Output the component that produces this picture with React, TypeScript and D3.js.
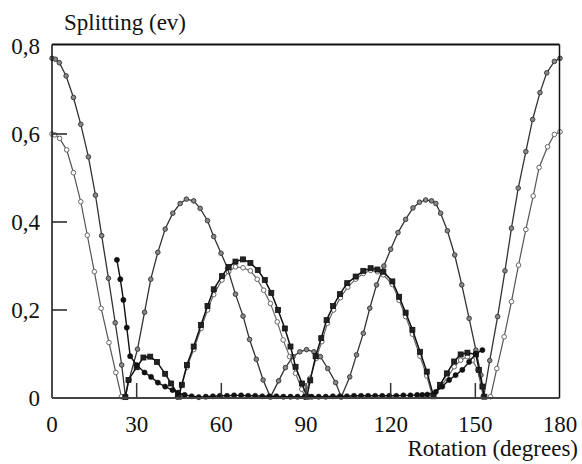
import React, { useEffect, useRef } from "react";
import * as d3 from "d3";

type P = [number, number];

const xTicks = [0, 30, 60, 90, 120, 150, 180];
const yTicks = [0, 0.2, 0.4, 0.6, 0.8];
const yTickLabels = ["0", "0,2", "0,4", "0,6", "0,8"];
const yTitle = "Splitting (ev)";
const xTitle = "Rotation (degrees)";

// 0.77 curve (continuous)
const s1: P[] = [
  [0, 0.772], [1.2, 0.77], [2.6, 0.762], [5, 0.732], [7.6, 0.683], [10.2, 0.622], [12.9, 0.548],
  [15.4, 0.461], [17.6, 0.369], [20, 0.272], [22.4, 0.171], [24.7, 0.075], [26, 0.004],
  [27.3, 0.041], [30.3, 0.111], [32.8, 0.195], [35, 0.27], [37.5, 0.331], [40.1, 0.384], [42.8, 0.42],
  [45.4, 0.442], [47.6, 0.452], [50.2, 0.448], [52.5, 0.431], [55.1, 0.403], [57.3, 0.367], [59.9, 0.329],
  [62.2, 0.295], [65, 0.236], [67.7, 0.186], [70, 0.133], [72.4, 0.088], [74.8, 0.041], [77.4, 0.002],
  [80.3, 0.039], [82.7, 0.069], [85.4, 0.094], [87.8, 0.105], [90.2, 0.11], [92.8, 0.105], [95.1, 0.094],
  [97.7, 0.067], [100.5, 0.035], [102.5, 0.002],
  [105.5, 0.048], [107.9, 0.098], [110.3, 0.147], [112.6, 0.204], [115, 0.257], [117.6, 0.3], [120, 0.338],
  [122.6, 0.376], [125.3, 0.406], [127.9, 0.432], [130.2, 0.445], [132.4, 0.45], [134.5, 0.448], [136, 0.442],
  [137.7, 0.42], [140.1, 0.38], [142.7, 0.325], [145.2, 0.257], [147.8, 0.181], [150.2, 0.109], [152, 0.052],
  [153, 0.004],
  [155.1, 0.085], [157.9, 0.185], [160.5, 0.289], [162.8, 0.386], [165.2, 0.477], [167.9, 0.56], [170.3, 0.633],
  [172.9, 0.694], [175.3, 0.739], [178, 0.765], [180, 0.772],
];

// 0.6 curve, two branches
const s2Left: P[] = [
  [0, 0.6], [1, 0.598], [2.7, 0.59], [5.2, 0.564], [7.6, 0.512], [10.2, 0.446], [12.5, 0.37], [15, 0.287],
  [17.4, 0.204], [20.2, 0.126], [22.6, 0.058], [24.6, 0.003],
];
const s2Right: P[] = [
  [155.4, 0.003], [157.6, 0.067], [160.2, 0.139], [162.8, 0.219], [165.3, 0.302], [167.9, 0.383], [170.5, 0.459],
  [172.6, 0.524], [175.6, 0.571], [178, 0.599], [180, 0.605],
];

// dotted near-zero curve
const s3: P[] = [
  [23, 0.314], [24.2, 0.27], [25.3, 0.223], [26.5, 0.16], [27.7, 0.095], [30, 0.075], [32.8, 0.058],
  [35.1, 0.048], [37.5, 0.035], [40.1, 0.026], [42.7, 0.018], [44.6, 0.012], [47, 0.007], [49.5, 0.004],
  [52, 0.002], [54.5, 0.003], [57, 0.004], [59.5, 0.005], [62, 0.005], [64.5, 0.006], [67, 0.006], [69.5, 0.005],
  [72, 0.005], [74.5, 0.004], [77, 0.004], [79.5, 0.004], [82, 0.003], [84.5, 0.003], [87, 0.003], [89.5, 0.003],
  [92, 0.003], [94.5, 0.003], [97, 0.003], [99.5, 0.004], [102, 0.004], [104.5, 0.004], [107, 0.005], [109.5, 0.005],
  [112, 0.005], [114.5, 0.005], [117, 0.005], [119.5, 0.005], [122, 0.005], [124.5, 0.006], [127, 0.006],
  [129.4, 0.007], [131.2, 0.007], [133, 0.008], [136, 0.014], [138.3, 0.026], [140.7, 0.041], [143, 0.052],
  [145.4, 0.064], [147.8, 0.082], [150.2, 0.101], [152.5, 0.109],
];

// black squares arches
const a1: P[] = [
  [26, 0.002], [27.1, 0.041], [30, 0.07], [32.4, 0.092], [34.8, 0.094], [37.2, 0.082], [40.1, 0.055],
  [42.2, 0.033], [44.6, 0.008], [44.9, 0.003], [46, 0.03], [47.8, 0.075], [50.2, 0.117], [52.8, 0.166],
  [55.1, 0.209], [57.3, 0.247], [60.2, 0.277], [62.6, 0.298], [65, 0.31], [67.7, 0.315], [70.3, 0.307],
  [72.9, 0.291], [75.4, 0.268], [77.7, 0.239], [80.1, 0.2], [82.5, 0.158], [84.5, 0.117], [86.3, 0.071],
  [88.6, 0.033], [90.3, 0.003], [91.5, 0.04], [93.4, 0.095], [95.4, 0.136], [97.3, 0.177], [99.6, 0.209],
  [102, 0.236], [104.6, 0.261], [107.6, 0.276], [110.3, 0.289], [112.9, 0.295], [115.3, 0.292], [117.4, 0.287],
  [120.6, 0.265], [123, 0.23], [125.3, 0.194], [127.7, 0.155], [130.4, 0.105], [132.8, 0.06], [135.2, 0.004],
  [137.5, 0.03], [139.9, 0.056], [142.5, 0.083], [144.8, 0.099], [147.2, 0.103], [150.2, 0.099], [151.3, 0.064],
  [152.5, 0.026], [153.2, 0.003],
];

// gray open arches
const a2: P[] = [
  [44.5, 0.003], [46, 0.03], [47.8, 0.07], [50.2, 0.11], [52.8, 0.158], [55.1, 0.2], [57.3, 0.235],
  [60.2, 0.268], [62.6, 0.287], [65, 0.298], [67.7, 0.296], [70.3, 0.289], [72.7, 0.27], [75, 0.245],
  [77.4, 0.215], [79.8, 0.173], [81.9, 0.132], [84.2, 0.094], [86.3, 0.056], [88.5, 0.02], [89.6, 0.003],
  [91.5, 0.045], [93.6, 0.09], [95.6, 0.128], [97.6, 0.17], [99.8, 0.2], [102.2, 0.228], [104.8, 0.252],
  [107.6, 0.27], [110.3, 0.283], [112.9, 0.29], [115.3, 0.287], [117.4, 0.28], [120.6, 0.258], [123, 0.222],
  [125.3, 0.185], [127.7, 0.145], [130.4, 0.095], [132.8, 0.05], [134.8, 0.004], [137.5, 0.025], [140, 0.045],
  [142.5, 0.071], [144.8, 0.086], [147.2, 0.094], [149, 0.086], [150.8, 0.064], [152.8, 0.004],
];

const W = 582;
const H = 464;
const L = 52, R = 560, T = 44.5, B = 398;

export default function App() {
  const ref = useRef<SVGSVGElement>(null);

  useEffect(() => {
    const svg = d3.select(ref.current);
    svg.selectAll("*").remove();
    const x = d3.scaleLinear().domain([0, 180]).range([L, R]);
    const y = d3.scaleLinear().domain([0, 0.8]).range([B, 46]);
    const line = d3.line<P>().x((d) => x(d[0])).y((d) => y(d[1]));

    svg.append("rect").attr("width", W).attr("height", H).attr("fill", "#fff");

    const g = svg.append("g").attr("fill", "none");
    const drawLine = (data: P[], color: string, w: number) =>
      g.append("path").attr("d", line(data)).attr("stroke", color).attr("stroke-width", w);
    const drawCircles = (data: P[], r: number, fill: string, stroke: string, sw: number) =>
      g.append("g").selectAll("circle").data(data).join("circle")
        .attr("cx", (d) => x(d[0])).attr("cy", (d) => y(d[1])).attr("r", r)
        .attr("fill", fill).attr("stroke", stroke).attr("stroke-width", sw);
    const drawSquares = (data: P[], s: number, fill: string, stroke: string) =>
      g.append("g").selectAll("rect").data(data).join("rect")
        .attr("x", (d) => x(d[0]) - s / 2).attr("y", (d) => y(d[1]) - s / 2)
        .attr("width", s).attr("height", s)
        .attr("fill", fill).attr("stroke", stroke).attr("stroke-width", 0.8);

    drawLine(a2, "#666", 1.2);
    drawCircles(a2, 2.3, "#fff", "#666", 1);
    drawLine(s2Left, "#555", 1.2);
    drawLine(s2Right, "#555", 1.2);
    drawCircles(s2Left, 2.3, "#fff", "#666", 1);
    drawCircles(s2Right, 2.3, "#fff", "#666", 1);
    drawLine(s1, "#333", 1.3);
    drawCircles(s1, 2.3, "#888", "#333", 0.9);
    drawLine(a1, "#111", 1.5);
    drawSquares(a1, 5, "#222", "#111");
    drawLine(s3, "#111", 1.4);
    drawCircles(s3, 2.6, "#111", "#111", 0.5);

    const frame = svg.append("g");
    frame.append("line").attr("x1", L).attr("x2", L).attr("y1", T).attr("y2", B).attr("stroke", "#111").attr("stroke-width", 1.5);
    frame.append("line").attr("x1", L).attr("x2", R - 0.5).attr("y1", T).attr("y2", T).attr("stroke", "#111").attr("stroke-width", 2);
    frame.append("line").attr("x1", R - 0.5).attr("x2", R - 0.5).attr("y1", T).attr("y2", B).attr("stroke", "#111").attr("stroke-width", 1.5);
    frame.append("line").attr("x1", L).attr("x2", R - 0.5).attr("y1", B).attr("y2", B).attr("stroke", "#444").attr("stroke-width", 2);
    frame.selectAll(".xt").data(xTicks.slice(1, -1)).join("line")
      .attr("x1", (t) => x(t)).attr("x2", (t) => x(t)).attr("y1", B).attr("y2", B - 15)
      .attr("stroke", "#333").attr("stroke-width", 1.5);
    frame.selectAll(".yt").data(yTicks.slice(1, -1)).join("line")
      .attr("x1", L).attr("x2", L + 15).attr("y1", (t) => y(t)).attr("y2", (t) => y(t))
      .attr("stroke", "#222").attr("stroke-width", 1.5);

    const txt = svg.append("g")
      .attr("font-family", "Liberation Serif")
      .style("font-family", "Liberation Serif")
      .attr("font-size", 23)
      .attr("fill", "#111");
    txt.selectAll(".xl").data(xTicks).join("text")
      .attr("x", (t) => x(t)).attr("y", 432).attr("text-anchor", "middle")
      .style("font-family", "Liberation Serif")
      .text((t) => String(t));
    txt.selectAll(".yl").data(yTicks).join("text")
      .attr("x", 40).attr("y", (t) => y(t) + 8).attr("text-anchor", "end")
      .style("font-family", "Liberation Serif")
      .text((t, i) => yTickLabels[i]);
    txt.append("text").attr("x", 64).attr("y", 30).style("font-family", "Liberation Serif").text(yTitle);
    txt.append("text").attr("x", 578).attr("y", 456).attr("text-anchor", "end").style("font-family", "Liberation Serif").text(xTitle);
  }, []);

  return (
    <svg
      ref={ref}
      width={W}
      height={H}
      style={{ position: "absolute", left: 0, top: 0, background: "#fff", fontFamily: "Liberation Serif" }}
    />
  );
}
